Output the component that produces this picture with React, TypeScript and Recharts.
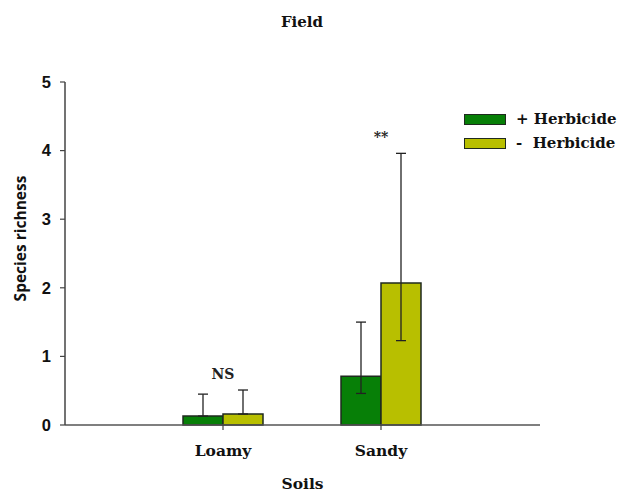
import { BarChart, Bar, XAxis, YAxis, ErrorBar, ReferenceDot, Label } from 'recharts'

const soils = ['Loamy', 'Sandy']
const plusMean = [0.13, 0.71]
const minusMean = [0.16, 2.07]
const plusUpper = [0.45, 1.5]
const plusLower = [0.13, 0.46]
const minusUpper = [0.51, 3.96]
const minusLower = [0.16, 1.23]
const signif = ['NS', '**']
const yTicks = [0, 1, 2, 3, 4, 5]

const series = [
  { key: 'plus', name: '+ Herbicide', color: '#077f07' },
  { key: 'minus', name: '-  Herbicide', color: '#b8bf00' },
]

const data = soils.map((soil, i) => ({
  soil,
  plus: plusMean[i],
  minus: minusMean[i],
  plusErr: [plusMean[i] - plusLower[i], plusUpper[i] - plusMean[i]],
  minusErr: [minusMean[i] - minusLower[i], minusUpper[i] - minusMean[i]],
}))

const serif = '"DejaVu Serif", serif'
const sans = '"Liberation Sans", Arial, sans-serif'

function SigLabel(props: any) {
  const { viewBox, value } = props
  const cx = viewBox.x + viewBox.width / 2
  const cy = viewBox.y + viewBox.height / 2
  return (
    <text x={cx} y={cy} textAnchor="middle" dominantBaseline="central"
      fontFamily={serif} fontWeight="bold" fontSize={14} fill="#222">
      {value}
    </text>
  )
}

export default function App() {
  return (
    <div style={{ position: 'absolute', left: 0, top: 0, width: 617, height: 492, background: '#fff' }}>
      <div style={{ position: 'absolute', top: 13, left: 0, width: 604, textAlign: 'center',
        fontFamily: serif, fontWeight: 'bold', fontSize: 15, color: '#111' }}>
        Field
      </div>
      <BarChart width={617} height={492} data={data} barGap={0}
        margin={{ top: 82, right: 77, left: 0, bottom: 0 }}>
        <XAxis dataKey="soil" height={67} padding={{ left: 79, right: 80 }}
          axisLine={{ stroke: '#555', strokeWidth: 1.5 }}
          tickLine={{ stroke: '#444', strokeWidth: 1.2 }} tickSize={5} tickMargin={15}
          tick={{ fontFamily: serif, fontWeight: 'bold', fontSize: 15.5, fill: '#111' }}>
          <Label content={(p: any) => (
            <text x={p.viewBox.x + p.viewBox.width / 2} y={p.viewBox.y + 64} textAnchor="middle"
              fontFamily={serif} fontWeight="bold" fontSize={15.5} fill="#111">Soils</text>
          )} />
        </XAxis>
        <YAxis width={65} domain={[0, 5]} ticks={yTicks} interval={0}
          axisLine={{ stroke: '#444', strokeWidth: 1.5 }}
          tickLine={{ stroke: '#444', strokeWidth: 1.2 }} tickSize={5} tickMargin={9}
          tick={{ fontFamily: sans, fontWeight: 'bold', fontSize: 16.5, fill: '#111' }}>
          <Label content={(p: any) => (
            <text x={20} y={p.viewBox.y + p.viewBox.height / 2 - 15} textAnchor="middle"
              dominantBaseline="central" transform={`rotate(-90, 20, ${p.viewBox.y + p.viewBox.height / 2 - 15})`}
              fontFamily='"Open Sans", sans-serif' fontWeight="bold" fontSize={15.5} fill="#111">
              Species richness
            </text>
          )} />
        </YAxis>
        {series.map((s) => (
          <Bar key={s.key} dataKey={s.key} name={s.name} fill={s.color} stroke="#1f2a1f"
            strokeWidth={1.5} barSize={40} isAnimationActive={false}>
            <ErrorBar dataKey={`${s.key}Err`} direction="y" width={5} stroke="#222" strokeWidth={1.3} />
          </Bar>
        ))}
        {soils.map((soil, i) => (
          <ReferenceDot key={soil} x={soil}
            y={Math.max(plusUpper[i], minusUpper[i]) + 0.24} r={0} ifOverflow="visible"
            label={<SigLabel value={signif[i]} />} />
        ))}
      </BarChart>
      <div style={{ position: 'absolute', left: 464, top: 107 }}>
        {series.map((s) => (
          <div key={s.key} style={{ display: 'flex', alignItems: 'center', height: 24 }}>
            <span style={{ display: 'inline-block', width: 40, height: 9, background: s.color,
              border: '1.5px solid #1f2a1f' }} />
            <span style={{ marginLeft: 10, fontFamily: serif, fontWeight: 'bold', fontSize: 15,
              color: '#111', whiteSpace: 'pre' }}>{s.name}</span>
          </div>
        ))}
      </div>
    </div>
  )
}
